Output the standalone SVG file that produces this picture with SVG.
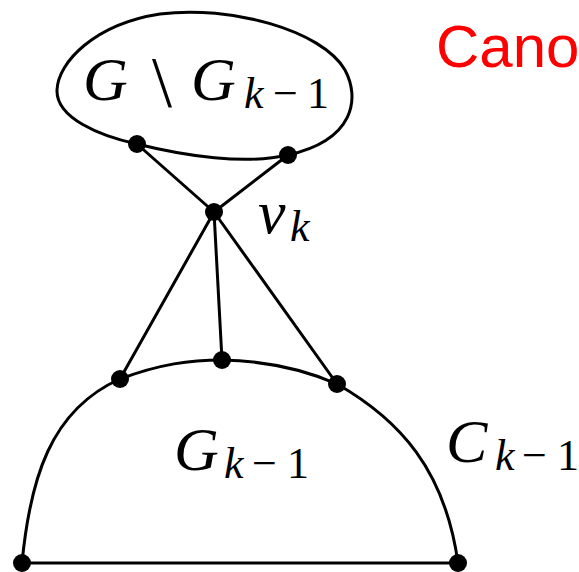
<svg xmlns="http://www.w3.org/2000/svg" width="579" height="572" viewBox="0 0 579 572">
<style>
.e{stroke:#000;stroke-width:3;fill:none;stroke-linecap:round}
.n{fill:#000}
.m{font-family:"Liberation Serif","DejaVu Serif",serif;font-style:italic;fill:#000}
.u{font-family:"Liberation Serif","DejaVu Serif",serif;fill:#000}
.big{font-size:62px}
.sub{font-size:44px}
.red{font-family:"Liberation Sans",Arial,sans-serif;font-size:60px;fill:#ff0000}
</style>
<rect width="579" height="572" fill="#fff"/>
<text class="red" x="436" y="67">Cano</text>
<g id="connectors">
<line class="e" x1="214" y1="212" x2="137" y2="144"/>
<line class="e" x1="214" y1="212" x2="288" y2="155"/>
<line class="e" x1="214" y1="212" x2="120" y2="379"/>
<line class="e" x1="214" y1="212" x2="222" y2="360"/>
<line class="e" x1="214" y1="212" x2="337" y2="384"/>
</g>
<g id="blob">
<path class="e" d="M137,144 C100,136 56,118 57,90 C58,62 95,24 160,14 C230,5 322,30 345,70 C360,98 355,140 288,155 C245,165 185,156 137,144 Z"/>
<text class="m big" x="83" y="100">G</text>
<text class="u" style="font-size:72px" x="152" y="106">\</text>
<text class="m big" x="191" y="100">G</text>
<text class="m sub" x="244" y="108">k</text>
<text class="u sub" x="273" y="108">−</text>
<text class="u sub" x="307" y="108">1</text>
</g>
<g id="cycle">
<path class="e" d="M22,563 C30,480 50,410 120,379 C160,364 190,360 222,360 C270,361 305,370 337,384 C400,420 445,470 458,563"/>
<line class="e" x1="22" y1="563" x2="458" y2="563"/>
<text class="m big" x="174" y="470">G</text>
<text class="m sub" x="224" y="478">k</text>
<text class="u sub" x="252" y="478">−</text>
<text class="u sub" x="287" y="478">1</text>
<text class="m big" x="446" y="462">C</text>
<text class="m sub" x="495" y="470">k</text>
<text class="u sub" x="522" y="470">−</text>
<text class="u sub" x="557" y="470">1</text>
</g>
<g id="vk">
<circle class="n" cx="214" cy="212" r="9"/>
<text class="m big" x="258" y="233">v</text>
<text class="m sub" x="290" y="241">k</text>
</g>
<g id="nodes">
<circle id="t1" class="n" cx="137" cy="144" r="9"/>
<circle id="t2" class="n" cx="288" cy="155" r="9"/>
<circle id="c1" class="n" cx="120" cy="379" r="9"/>
<circle id="c2" class="n" cx="222" cy="360" r="9"/>
<circle id="c3" class="n" cx="337" cy="384" r="9"/>
<circle id="b1" class="n" cx="22" cy="563" r="9"/>
<circle id="b2" class="n" cx="458" cy="563" r="9"/>
</g>
</svg>
